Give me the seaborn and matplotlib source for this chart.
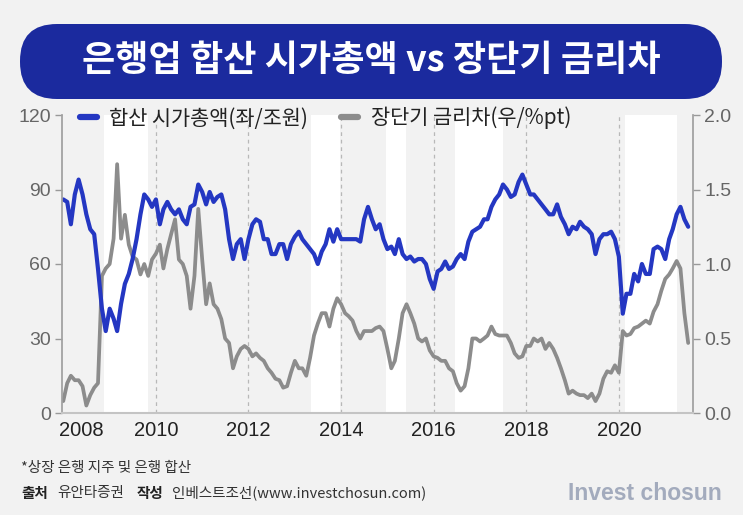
import pandas as pd
import numpy as np
import matplotlib
matplotlib.use('Agg')
import matplotlib.pyplot as plt
from matplotlib.patches import FancyBboxPatch
from matplotlib.lines import Line2D
from matplotlib import font_manager
import seaborn as sns

# monthly values, Jan 2008 - Jul 2021
months = pd.date_range('2008-01-01', periods=163, freq='MS')

# 합산 시가총액 (좌, 조원)
market_cap = [
    86, 85, 76, 88, 94, 88, 80, 74, 72, 58,
    42, 33, 42, 38, 33, 44, 52, 56, 62, 70,
    80, 88, 86, 83, 86, 76, 82, 85, 82, 80,
    82, 78, 76, 83, 84, 92, 89, 84, 89, 85,
    87, 88, 82, 70, 62, 68, 70, 62, 70, 76,
    78, 77, 70, 70, 64, 64, 68, 68, 62, 68,
    71, 73, 70, 68, 66, 64, 60, 65, 68, 74,
    69, 74, 70, 70, 70, 70, 70, 69, 78, 83,
    78, 74, 76, 70, 66, 67, 64, 70, 64, 62,
    63, 61, 62, 62, 60, 54, 50, 57, 58, 61,
    58, 59, 62, 64, 62, 69, 73, 74, 75, 78,
    78, 83, 86, 88, 92, 90, 87, 88, 93, 96,
    92, 88, 88, 86, 84, 82, 80, 80, 84, 79,
    76, 72, 75, 74, 77, 75, 74, 72, 64, 70,
    72, 72, 73, 70, 63, 40, 48, 48, 56, 53,
    60, 56, 56, 66, 67, 66, 62, 70, 74, 80,
    83, 78, 75,
]

# 장단기 금리차 (우, %pt)
spread = [
    0.08, 0.20, 0.25, 0.22, 0.22, 0.18, 0.05, 0.12, 0.17, 0.20,
    0.92, 0.97, 1.00, 1.17, 1.67, 1.17, 1.33, 1.13, 1.05, 1.03,
    0.93, 1.00, 0.92, 1.03, 1.07, 1.13, 0.97, 1.10, 1.20, 1.30,
    1.03, 1.00, 0.92, 0.70, 0.92, 1.37, 1.03, 0.73, 0.87, 0.73,
    0.70, 0.63, 0.50, 0.47, 0.30, 0.38, 0.43, 0.45, 0.43, 0.38,
    0.40, 0.37, 0.35, 0.30, 0.27, 0.23, 0.22, 0.17, 0.18, 0.27,
    0.35, 0.30, 0.30, 0.25, 0.37, 0.52, 0.60, 0.67, 0.67, 0.58,
    0.70, 0.77, 0.73, 0.67, 0.65, 0.62, 0.55, 0.50, 0.55, 0.55,
    0.55, 0.57, 0.58, 0.55, 0.43, 0.30, 0.35, 0.50, 0.67, 0.73,
    0.67, 0.60, 0.50, 0.48, 0.50, 0.42, 0.38, 0.37, 0.35, 0.35,
    0.30, 0.28, 0.20, 0.15, 0.18, 0.30, 0.50, 0.50, 0.48, 0.50,
    0.52, 0.58, 0.53, 0.52, 0.52, 0.52, 0.47, 0.40, 0.37, 0.38,
    0.45, 0.45, 0.50, 0.48, 0.50, 0.43, 0.47, 0.43, 0.37, 0.30,
    0.22, 0.13, 0.15, 0.13, 0.12, 0.12, 0.10, 0.13, 0.08, 0.13,
    0.23, 0.28, 0.27, 0.32, 0.27, 0.55, 0.52, 0.53, 0.57, 0.58,
    0.60, 0.62, 0.60, 0.68, 0.73, 0.82, 0.90, 0.93, 0.97, 1.02,
    0.97, 0.67, 0.47,
]

# white bands in the background
shade_periods = [
    ('2008-11-20', '2009-10-27'),
    ('2013-05-05', '2013-12-20'),
    ('2014-12-20', '2015-05-26'),
    ('2016-06-18', '2017-06-28'),
    ('2020-02-20', '2021-04-07'),
]
year_labels = ['2008', '2010', '2012', '2014', '2016', '2018', '2020']
left_ticks = [0, 30, 60, 90, 120]
right_ticks = [0.0, 0.5, 1.0, 1.5, 2.0]
legend_labels = ['합산 시가총액(좌/조원)', '장단기 금리차(우/%pt)']

sns.set_theme(style='white')
installed = {f.name for f in font_manager.fontManager.ttflist}
num_font = 'Liberation Sans Narrow' if 'Liberation Sans Narrow' in installed else 'Liberation Sans'
plt.rcParams['font.family'] = ['Noto Sans CJK KR', 'DejaVu Sans']

bg = '#f2f2f2'
blue = '#2437c2'
grey = '#8c8c8c'

fig = plt.figure(figsize=(7.43, 5.15), dpi=100, facecolor=bg)

# pixel canvas for title box + footer
canvas = fig.add_axes([0, 0, 1, 1])
canvas.set_xlim(0, 743)
canvas.set_ylim(515, 0)
canvas.axis('off')
canvas.add_patch(FancyBboxPatch((20, 24), 702, 75, boxstyle='round,pad=0,rounding_size=37',
                                fc='#1b2a9e', ec='none'))
canvas.text(371, 60, '은행업 합산 시가총액 vs 장단기 금리차', color='white', fontsize=26,
            fontweight='bold', ha='center', va='center')

canvas.text(21, 468, '*상장 은행 지주 및 은행 합산', fontsize=10.5, color='#333', va='center')
canvas.text(21, 493, '출처', fontsize=10.5, color='#222', fontweight='bold', va='center')
canvas.text(57, 493, '유안타증권', fontsize=10.5, color='#333', va='center')
canvas.text(137, 493, '작성', fontsize=10.5, color='#222', fontweight='bold', va='center')
canvas.text(172, 493, '인베스트조선(www.investchosun.com)', fontsize=10.5, color='#333', va='center')
canvas.text(722, 493, 'Invest chosun', fontsize=16.5, color='#a3abbd', fontweight='bold',
            family='Liberation Sans', ha='right', va='center')

# main chart
ax = fig.add_axes([62 / 743, 1 - 413 / 515, 631 / 743, 298 / 515])
ax2 = ax.twinx()
ax.set_zorder(ax2.get_zorder() + 1)
ax.patch.set_visible(False)
ax2.patch.set_visible(False)

for start, end in shade_periods:
    ax2.axvspan(pd.Timestamp(start), pd.Timestamp(end), color='white', lw=0, zorder=0)
for yr in year_labels[1:]:
    ax2.axvline(pd.Timestamp(yr + '-01-01'), color='#b8b8b8', lw=0.9, ls=(0, (3, 3)), zorder=0.5)

sns.lineplot(x=months, y=spread, ax=ax2, color=grey, linewidth=2.7)
sns.lineplot(x=months, y=market_cap, ax=ax, color=blue, linewidth=3.0)

ax.set_xlim(pd.Timestamp('2007-12-22'), pd.Timestamp('2021-08-08'))
ax.set_ylim(0, 120)
ax2.set_ylim(0, 2)
ax.set_xlabel('')
ax.set_ylabel('')
ax2.set_ylabel('')

xt = [pd.Timestamp('2008-05-20')] + [pd.Timestamp(y + '-01-01') for y in year_labels[1:]]
ax.set_xticks(xt)
ax.set_xticklabels(year_labels, fontsize=14.5, color='#222', family=num_font)
ax.set_yticks(left_ticks)
ax.set_yticklabels([str(v) for v in left_ticks], fontsize=14, color='#666', family=num_font)
ax2.set_yticks(right_ticks)
ax2.set_yticklabels([f'{v:.1f}' for v in right_ticks], fontsize=14, color='#666', family=num_font)

ax.tick_params(axis='x', length=0, pad=6)
ax.tick_params(axis='y', left=True, length=5, width=1, color='#999', pad=3)
ax2.tick_params(axis='y', right=True, length=5, width=1, color='#999', pad=3)

for s in ax2.spines.values():
    s.set_visible(False)
ax.spines['top'].set_visible(False)
ax.spines['left'].set_color('#a0a0a0')
ax.spines['right'].set_color('#a0a0a0')
ax.spines['bottom'].set_color('#c4c4c4')
ax.spines['bottom'].set_linewidth(1.5)

handles = [Line2D([], [], color=blue, lw=4.5), Line2D([], [], color=grey, lw=4.5)]
ax.legend(handles, legend_labels, loc='center left', bbox_to_anchor=(0.0285, 0.99), ncol=2,
          frameon=False, fontsize=15, handlelength=0.8, handletextpad=0.6,
          columnspacing=1.6, borderpad=0, borderaxespad=0, labelcolor='#222')

fig.savefig('out.png', dpi=100, facecolor=bg)
